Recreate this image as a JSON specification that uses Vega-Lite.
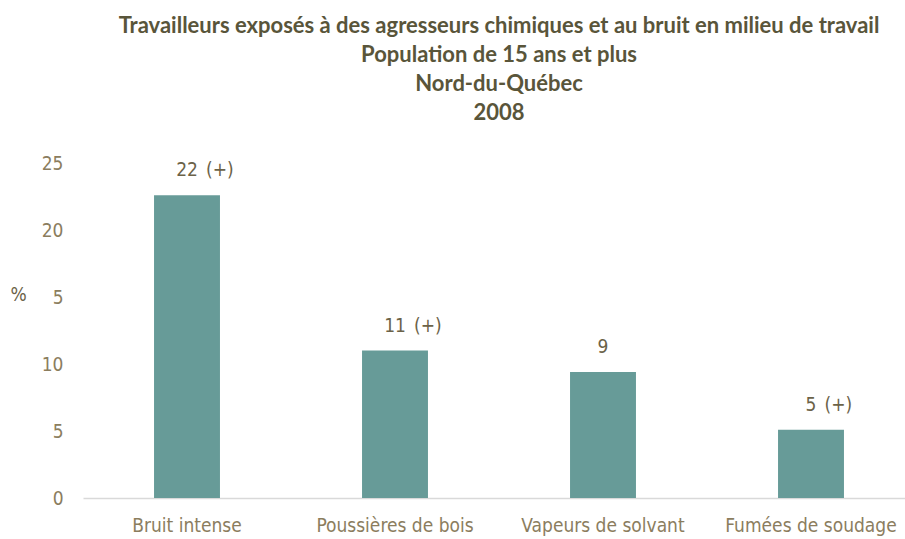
{
  "$schema": "https://vega.github.io/schema/vega-lite/v6.json",
  "width": 832,
  "height": 335,
  "autosize": {"type": "none"},
  "padding": {"left": 83, "top": 163, "right": 0, "bottom": 41},
  "background": "white",
  "title": {
    "text": ["Travailleurs exposés à des agresseurs chimiques et au bruit en milieu de travail", "Population de 15 ans et plus", "Nord-du-Québec", "2008"],
    "font": "Lato",
    "fontSize": 22,
    "fontWeight": "bold",
    "color": "#59553a",
    "lineHeight": 29,
    "anchor": "middle",
    "frame": "group",
    "offset": 29
  },
  "data": {
    "values": [
      {"categorie": "Bruit intense", "valeur": 22.6, "nombre": "22", "signe": "(+)"},
      {"categorie": "Poussières de bois", "valeur": 11.0, "nombre": "11", "signe": "(+)"},
      {"categorie": "Vapeurs de solvant", "valeur": 9.4, "nombre": "9", "signe": ""},
      {"categorie": "Fumées de soudage", "valeur": 5.1, "nombre": "5", "signe": "(+)"}
    ]
  },
  "encoding": {
    "x": {
      "field": "categorie",
      "type": "nominal",
      "sort": null,
      "scale": {"paddingInner": 0.683, "paddingOuter": 0.3415},
      "axis": {
        "title": null,
        "labelAngle": 0,
        "labelFont": "DejaVu Sans Condensed, Roboto",
        "labelFontSize": 19,
        "labelColor": "#8b7d5e",
        "labelPadding": 18,
        "ticks": false,
        "domainColor": "#d9d9d9",
        "domainWidth": 1.5,
        "grid": false
      }
    },
    "y": {
      "field": "valeur",
      "type": "quantitative",
      "scale": {"domain": [0, 25]},
      "axis": {
        "values": [0, 5, 10, 15, 20, 25],
        "labelExpr": "datum.value == 15 ? '5' : datum.label",
        "title": "%",
        "titleAngle": 0,
        "titleX": -65,
        "titleY": 141,
        "titleFont": "DejaVu Sans Condensed, Roboto",
        "titleFontSize": 19,
        "titleFontWeight": "normal",
        "titleColor": "#6b6248",
        "labelFont": "DejaVu Sans Condensed, Roboto",
        "labelFontSize": 19,
        "labelColor": "#8b7d5e",
        "labelPadding": 20,
        "ticks": false,
        "domain": false,
        "grid": false
      }
    }
  },
  "layer": [
    {"mark": {"type": "bar", "color": "#679b98"}},
    {
      "mark": {"type": "text", "dy": -25, "font": "DejaVu Sans Condensed, Roboto", "fontSize": 19, "color": "#6b6248"},
      "encoding": {"text": {"field": "nombre"}}
    },
    {
      "mark": {"type": "text", "align": "left", "dy": -25, "dx": {"expr": "length(datum.nombre) * 5.5 + 8"}, "font": "DejaVu Sans Condensed, Roboto", "fontSize": 19, "color": "#6b6248"},
      "encoding": {"text": {"field": "signe"}}
    }
  ],
  "config": {"view": {"stroke": null}}
}
